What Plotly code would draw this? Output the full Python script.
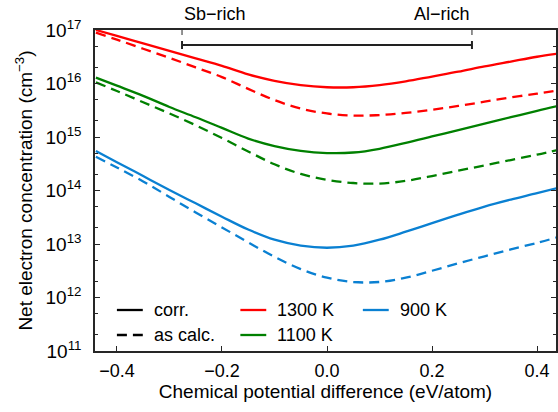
import plotly.graph_objects as go

# ---------------- data ----------------
mu = [-0.44, -0.40, -0.35, -0.30, -0.25, -0.20, -0.15, -0.10, -0.05, 0.00,
      0.05, 0.10, 0.15, 0.20, 0.25, 0.30, 0.35, 0.40, 0.44]

# log10 of net electron concentration (cm^-3)
log_corr_1300 = [17.00, 16.89, 16.75, 16.61, 16.47, 16.33, 16.17, 16.05, 15.97, 15.93,
                 15.93, 15.97, 16.04, 16.13, 16.22, 16.32, 16.41, 16.50, 16.56]
log_calc_1300 = [16.95, 16.82, 16.65, 16.48, 16.30, 16.12, 15.90, 15.69, 15.53, 15.44,
                 15.40, 15.41, 15.45, 15.51, 15.58, 15.66, 15.74, 15.81, 15.87]
log_corr_1100 = [16.11, 15.96, 15.77, 15.56, 15.37, 15.17, 14.97, 14.83, 14.74, 14.70,
                 14.71, 14.78, 14.89, 15.01, 15.13, 15.25, 15.37, 15.49, 15.58]
log_calc_1100 = [16.02, 15.86, 15.65, 15.44, 15.22, 14.98, 14.73, 14.49, 14.31, 14.20,
                 14.14, 14.13, 14.18, 14.27, 14.37, 14.47, 14.57, 14.67, 14.76]
log_corr_900 = [14.74, 14.53, 14.27, 14.01, 13.76, 13.51, 13.27, 13.08, 12.97, 12.93,
                12.97, 13.08, 13.23, 13.39, 13.55, 13.70, 13.83, 13.95, 14.05]
log_calc_900 = [14.63, 14.43, 14.17, 13.88, 13.59, 13.31, 13.03, 12.76, 12.53, 12.37,
                12.29, 12.29, 12.37, 12.50, 12.64, 12.77, 12.90, 13.02, 13.13]

SB_RICH = -0.276
AL_RICH = 0.276

x_ticks = [-0.4, -0.2, 0.0, 0.2, 0.4]
y_exponents = [11, 12, 13, 14, 15, 16, 17]

temps = ["1300 K", "1100 K", "900 K"]
colors = ["#ff0000", "#008000", "#0a80d2"]
corr_sets = [log_corr_1300, log_corr_1100, log_corr_900]
calc_sets = [log_calc_1300, log_calc_1100, log_calc_900]

# ---------------- figure ----------------
FONT = "Liberation Sans, Arial, sans-serif"
W, H = 558, 412
ML, MR, MT, MB = 95, 0, 30, 61
PW, PH = W - ML - MR, H - MT - MB

def px2paper_x(px):
    return (px - ML) / PW

def px2paper_y(py):
    return 1 - (py - MT) / PH

DASH = "10px,6px"
LW = 2.3

fig = go.Figure()
for c, col, corr, calc in zip(temps, colors, corr_sets, calc_sets):
    fig.add_trace(go.Scatter(x=mu, y=[10 ** v for v in corr], mode="lines",
                             line=dict(color=col, width=LW, shape="spline", smoothing=1.0),
                             showlegend=False, hoverinfo="skip"))
    fig.add_trace(go.Scatter(x=mu, y=[10 ** v for v in calc], mode="lines",
                             line=dict(color=col, width=LW, dash=DASH, shape="spline", smoothing=1.0),
                             showlegend=False, hoverinfo="skip"))

AXC = "#262626"
fig.update_layout(
    width=W, height=H,
    margin=dict(l=ML, r=MR, t=MT, b=MB, pad=0),
    paper_bgcolor="white", plot_bgcolor="white",
    font=dict(family=FONT, size=18, color="#000"),
    xaxis=dict(range=[-0.4417, 0.436], tickvals=x_ticks, tickformat=".1f",
               ticks="inside", ticklen=5, tickwidth=1, tickcolor=AXC,
               showline=True, linewidth=1.5, linecolor=AXC, mirror=True,
               showgrid=False, zeroline=False, ticklabelstandoff=3,
               tickfont=dict(size=18),
               title=dict(text="Chemical potential difference (eV/atom)",
                          font=dict(size=19), standoff=2)),
    yaxis=dict(type="log", range=[11, 17],
               tickvals=[10.0 ** e for e in y_exponents],
               ticktext=["10<sup>%d</sup>" % e for e in y_exponents],
               ticks="inside", ticklen=5, tickwidth=1, tickcolor=AXC,
               showline=True, linewidth=1.5, linecolor=AXC, mirror="ticks",
               showgrid=False, zeroline=False, ticklabelstandoff=8,
               minor=dict(ticks="inside", ticklen=3, dtick="D2", tickcolor=AXC, showgrid=False),
               tickfont=dict(size=19),
               title=dict(text="Net electron concentration (cm<sup>\u22123</sup>)",
                          font=dict(size=19), standoff=8)),
)

shapes = []
# top-axis ticks at the stability limits
for xv in (SB_RICH, AL_RICH):
    shapes.append(dict(type="line", xref="x", yref="paper", x0=xv, x1=xv,
                       y0=1, y1=1 - 5 / PH, line=dict(color=AXC, width=1)))
# bracket
yb = px2paper_y(45)
cap = 4 / PH
shapes.append(dict(type="line", xref="x", yref="paper", x0=SB_RICH, x1=AL_RICH,
                   y0=yb, y1=yb, line=dict(color="#222", width=2)))
for xv in (SB_RICH, AL_RICH):
    shapes.append(dict(type="line", xref="x", yref="paper", x0=xv, x1=xv,
                       y0=yb - cap, y1=yb + cap, line=dict(color="#222", width=2)))

# manual legend
leg_items = [
    ("corr.", "#000", "solid", 117, 310),
    ("as calc.", "#000", DASH, 117, 335),
    ("1300 K", colors[0], "solid", 241, 310),
    ("1100 K", colors[1], "solid", 241, 335),
    ("900 K", colors[2], "solid", 364, 310),
]
annotations = []
for label, col, dash, lx, ly in leg_items:
    shapes.append(dict(type="line", xref="paper", yref="paper",
                       x0=px2paper_x(lx), x1=px2paper_x(lx + 26),
                       y0=px2paper_y(ly), y1=px2paper_y(ly),
                       line=dict(color=col, width=LW, dash=dash)))
    annotations.append(dict(text=label, xref="paper", yref="paper",
                            x=px2paper_x(lx + 35), y=px2paper_y(ly),
                            xanchor="left", yanchor="middle", showarrow=False,
                            font=dict(size=18, color="#000")))

annotations.append(dict(text="Sb\u2212rich", xref="x", yref="paper", x=SB_RICH,
                        y=px2paper_y(14), xanchor="left", yanchor="middle",
                        showarrow=False, font=dict(size=18, color="#000")))
annotations.append(dict(text="Al\u2212rich", xref="x", yref="paper", x=AL_RICH,
                        y=px2paper_y(14), xanchor="right", yanchor="middle",
                        showarrow=False, font=dict(size=18, color="#000")))

fig.update_layout(shapes=shapes, annotations=annotations)
fig.write_html("out.html")
